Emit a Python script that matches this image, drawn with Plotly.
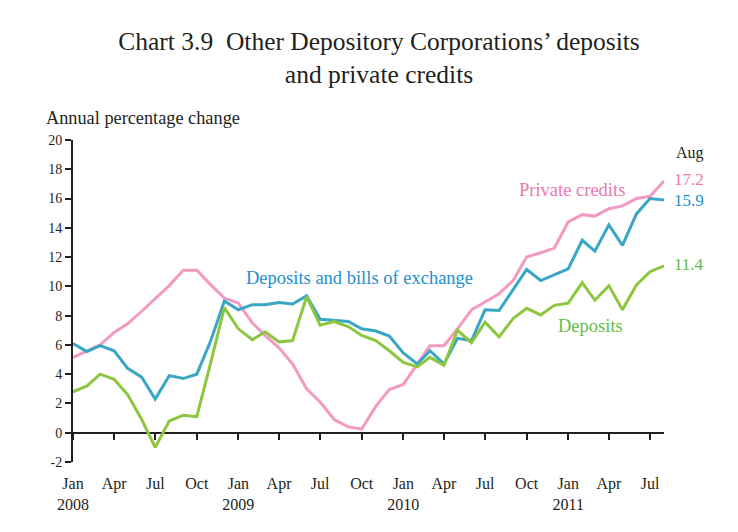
import plotly.graph_objects as go
import pandas as pd

months = pd.date_range("2008-01-01", "2011-08-01", freq="MS").strftime("%Y-%m-%d").tolist()

private_credits = [5.15, 5.6, 6.0, 6.85, 7.45, 8.3, 9.15, 10.05, 11.1, 11.1, 10.1, 9.2,
                   8.85, 7.5, 6.65, 5.8, 4.7, 3.0, 2.1, 0.9, 0.4, 0.25, 1.8, 2.95,
                   3.3, 4.65, 5.95, 5.95, 7.1, 8.4, 8.95, 9.5, 10.4, 12.0, 12.3, 12.6,
                   14.4, 14.9, 14.8, 15.3, 15.5, 16.0, 16.15, 17.2]

deposits_bills = [6.1, 5.55, 5.95, 5.6, 4.4, 3.8, 2.3, 3.9, 3.7, 4.0, 6.3, 9.0,
                  8.4, 8.75, 8.75, 8.9, 8.8, 9.35, 7.75, 7.7, 7.6, 7.1, 6.95, 6.6,
                  5.45, 4.7, 5.6, 4.7, 6.45, 6.3, 8.4, 8.35, 9.8, 11.15, 10.4, 10.8,
                  11.2, 13.15, 12.4, 14.2, 12.8, 14.95, 16.0, 15.9]

deposits = [2.8, 3.2, 4.0, 3.65, 2.6, 0.9, -1.0, 0.8, 1.2, 1.1, 4.8, 8.55,
            7.1, 6.35, 6.9, 6.2, 6.3, 9.3, 7.35, 7.6, 7.25, 6.65, 6.3, 5.6,
            4.8, 4.5, 5.15, 4.6, 7.0, 6.15, 7.55, 6.55, 7.8, 8.5, 8.05, 8.7,
            8.85, 10.25, 9.05, 10.05, 8.4, 10.1, 11.0, 11.4]

tick_vals = months[::3]
tick_text = []
for d in tick_vals:
    m = int(d[5:7]); y = d[:4]
    name = {1: "Jan", 4: "Apr", 7: "Jul", 10: "Oct"}[m]
    tick_text.append(f"{name}<br>{y}" if m == 1 else name)

y_ticks = list(range(-2, 21, 2))
y_tick_text = [str(v) for v in y_ticks]

PINK = "#F49AC2"
BLUE = "#3AA6C6"
GREEN = "#8DC63F"
PINK_T = "#EC78B0"
BLUE_T = "#1E8FD0"
GREEN_T = "#64BC46"
DARK = "#231F20"
FONT = "Liberation Serif"

# the page body adds an 8px offset, so the figure is 8px smaller on each axis
W, H = 730, 524
PW = 591  # plot width in px

fig = go.Figure()
fig.add_trace(go.Scatter(x=months, y=private_credits, mode="lines", name="Private credits",
                         line=dict(color=PINK, width=3)))
fig.add_trace(go.Scatter(x=months, y=deposits_bills, mode="lines", name="Deposits and bills of exchange",
                         line=dict(color=BLUE, width=3)))
fig.add_trace(go.Scatter(x=months, y=deposits, mode="lines", name="Deposits",
                         line=dict(color=GREEN, width=3)))

def lab(text, x, y, color, size=18.5, xref="x"):
    fig.add_annotation(text=text, x=x, y=y, xref=xref, yref="y", xanchor="left", yanchor="middle",
                       showarrow=False, font=dict(family=FONT, size=size, color=color))

lab("Deposits and bills of exchange", "2009-01-13", 10.6, BLUE_T)
lab("Private credits", "2010-09-09", 16.6, PINK_T)
lab("Deposits", "2010-12-05", 7.3, GREEN_T)
lab("Aug", 1 + 10/PW, 19.1, DARK, 16, "paper")
lab("17.2", 1 + 8/PW, 17.3, PINK_T, 17, "paper")
lab("15.9", 1 + 8/PW, 15.9, BLUE_T, 17, "paper")
lab("11.4", 1 + 8/PW, 11.5, GREEN_T, 17, "paper")

fig.add_annotation(text="Annual percentage change", xref="paper", yref="paper",
                   x=-29/PW, y=1, xanchor="left", yanchor="bottom", yshift=10,
                   showarrow=False, font=dict(family=FONT, size=18.3, color=DARK))

fig.update_layout(
    width=W, height=H,
    margin=dict(l=65, r=74, t=132, b=70),
    paper_bgcolor="white", plot_bgcolor="white",
    showlegend=False,
    font=dict(family=FONT, color=DARK),
    title=dict(text="Chart 3.9  Other Depository Corporations’ deposits<br>and private credits",
               x=371/W, xanchor="center", xref="container",
               y=1 - 42/H, yanchor="top", yref="container",
               font=dict(family=FONT, size=25.5, color=DARK)),
    xaxis=dict(range=[months[0], months[-1]], tickvals=tick_vals, ticktext=tick_text,
               showgrid=False, zeroline=False, showline=False,
               ticks="outside", ticklen=6, tickwidth=2, tickcolor=DARK,
               anchor="free", position=2/22, ticklabelstandoff=30,
               tickfont=dict(family=FONT, size=16, color=DARK)),
    yaxis=dict(range=[-2, 20], tickvals=y_ticks, ticktext=y_tick_text, showgrid=False,
               zeroline=True, zerolinecolor=DARK, zerolinewidth=2,
               showline=True, linecolor=DARK, linewidth=2,
               ticks="outside", ticklen=6, tickwidth=2, tickcolor=DARK,
               tickfont=dict(family=FONT, size=14, color=DARK)),
)

fig.write_html("out.html")
